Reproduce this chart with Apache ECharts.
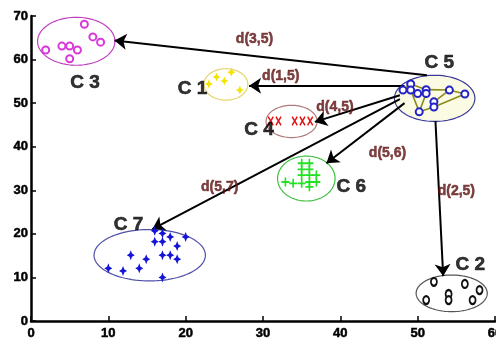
<!DOCTYPE html>
<html><head><meta charset="utf-8">
<script src="https://cdn.jsdelivr.net/npm/echarts@6/dist/echarts.min.js"></script>
<style>html,body{margin:0;padding:0;background:#fff}#c{width:496px;height:346px}</style>
</head><body><div id="c"></div>
<script>
// ---- data ----
var xTicks = [0, 10, 20, 30, 40, 50, 60];
var yTicks = [0, 10, 20, 30, 40, 50, 60, 70];
var clusterNames = ['C 1', 'C 2', 'C 3', 'C 4', 'C 5', 'C 6', 'C 7'];
var c1 = [[23.0,54.4],[24.0,56.0],[25.0,55.1],[25.9,57.1],[27.0,53.0]];
var c2 = [[52.1,9.0],[51.1,4.8],[54.0,6.2],[54.0,4.8],[56.1,8.5],[58.0,7.1],[57.1,4.8]];
var c3 = [[1.9,62.2],[4.0,63.1],[5.0,63.1],[6.0,62.2],[5.0,60.2],[6.9,68.1],[8.0,65.2],[9.0,64.0]];
var c4 = [[31.0,45.9],[32.0,45.9],[34.1,45.9],[35.1,45.9],[36.1,45.9]];
var c5 = [[48.1,53.0],[49.1,54.4],[49.1,53.0],[50.0,52.2],[51.1,53.1],[51.1,52.2],[52.1,50.3],[52.1,49.1],[50.2,48.0],[54.1,53.0],[56.1,52.1]];
var c6 = [[35.0,36.2],[36.0,36.2],[35.0,34.8],[36.0,34.8],[35.0,33.5],[36.0,33.5],[36.9,33.5],[36.0,31.9],[36.9,31.9],[32.9,31.9],[33.9,31.6],[35.0,31.6],[36.0,30.8]];
var c7 = [[10.0,12.1],[11.9,11.5],[14.0,12.1],[12.9,15.1],[14.9,14.2],[16.0,20.7],[17.0,20.1],[16.0,18.2],[17.0,18.2],[18.0,19.3],[18.9,17.2],[20.0,19.3],[17.0,15.1],[18.0,15.1],[18.9,14.2],[17.0,10.0]];
var c5Edges = [[1,4],[4,9],[9,10],[10,7],[7,8],[8,2],[2,1],[5,8],[6,9],[3,5],[0,1]];
// ellipse centres and radii in data units, order C1..C7
var ellipseCx = [25.2, 54.4, 5.85, 33.7, 52.2, 35.6, 15.35];
var ellipseCy = [54.3, 6.35, 64.2, 45.8, 51.1, 32.7, 15.1];
var ellipseRx = [2.84, 4.6, 5.0, 3.3, 5.2, 3.72, 7.2];
var ellipseRy = [3.6, 4.2, 5.5, 3.7, 5.3, 5.16, 5.9];
var clusterLabelX = [20.9, 56.8, 7.0, 29.5, 52.8, 41.4, 12.6];
var clusterLabelY = [53.2, 12.8, 54.6, 43.8, 59.2, 30.8, 22.2];
var distNames = ['d(3,5)', 'd(1,5)', 'd(4,5)', 'd(5,6)', 'd(5,7)', 'd(2,5)'];
var arrowFrom = [[51.2,56.4],[48.3,54.0],[47.7,51.8],[48.3,50.0],[47.7,50.9],[52.3,45.9]];
var arrowTo = [[10.8,64.4],[28.2,54.0],[36.7,45.7],[38.2,36.2],[15.7,21.1],[53.3,10.3]];
var distLabelX = [28.9, 32.3, 39.3, 46.1, 24.4, 55.0];
var distLabelY = [64.6, 56.1, 49.0, 38.6, 30.8, 29.7];

// ---- styles ----
var tickFont = {fontFamily: '"Liberation Sans", Arial, sans-serif', fontWeight: 'bold', fontSize: 13, color: '#000',
  textBorderColor: '#000', textBorderWidth: 0.5};
var ellipseStroke = ['#e6d36a', '#555555', '#c040c0', '#b07a7a', '#3a3a9a', '#40c040', '#5050a8'];
var ellipseFill = [null, null, null, null, '#fbfbe4', null, null];

var chart = echarts.init(document.getElementById('c'), null, {renderer: 'canvas'});

var ellipseData = ellipseCx.map(function (cx, i) { return [cx, ellipseCy[i], ellipseRx[i], ellipseRy[i], i]; });

function renderEllipse(params, api) {
  var c = api.coord([api.value(0), api.value(1)]);
  var s = api.size([api.value(2), api.value(3)]);
  var idx = api.value(4);
  var pts = [];
  for (var k = 0; k < 96; k++) {
    var t = k / 96 * Math.PI * 2;
    pts.push([c[0] + s[0] * Math.cos(t), c[1] + s[1] * Math.sin(t)]);
  }
  return {type: 'polygon', shape: {points: pts},
    style: {fill: ellipseFill[idx] || 'none', stroke: ellipseStroke[idx], lineWidth: 1.2}};
}

var edgeData = c5Edges.map(function (e) { return {coords: [c5[e[0]], c5[e[1]]]}; });
var arrowData = arrowFrom.map(function (f, i) { return {coords: [f, arrowTo[i]]}; });

var star4 = 'path://M5,0 L6.6,3.4 L10,5 L6.6,6.6 L5,10 L3.4,6.6 L0,5 L3.4,3.4 Z';
var plus = 'path://M4,0H6V4H10V6H6V10H4V6H0V4H4Z';
var xMark = 'path://M0,1.5 L1.5,0 L5,3.5 L8.5,0 L10,1.5 L6.5,5 L10,8.5 L8.5,10 L5,6.5 L1.5,10 L0,8.5 L3.5,5 Z';

function scatter(data, symbol, size, color, filled) {
  return {type: 'scatter', data: data, symbol: symbol, symbolSize: size, z: 5,
    itemStyle: filled ? {color: color, opacity: 1} : {color: color, borderColor: color, borderWidth: 1.6, opacity: 1}};
}

var clusterLabelData = clusterNames.map(function (n, i) { return {name: n, value: [clusterLabelX[i], clusterLabelY[i]]}; });
var distLabelData = distNames.map(function (n, i) { return {name: n, value: [distLabelX[i], distLabelY[i]]}; });

chart.setOption({
  animation: false,
  grid: {left: 31, right: 1, top: 16, bottom: 25, outerBoundsMode: 'none', containLabel: false},
  xAxis: {type: 'value', min: xTicks[0], max: xTicks[xTicks.length - 1], interval: 10,
    splitLine: {show: false},
    axisLine: {show: true, onZero: false, lineStyle: {color: '#000', width: 2.5}},
    axisTick: {show: true, inside: true, length: 5, lineStyle: {color: '#000', width: 1.5}},
    axisLabel: Object.assign({margin: 6, showMaxLabel: true, alignMaxLabel: 'center', hideOverlap: false}, tickFont)},
  yAxis: {type: 'value', min: yTicks[0], max: yTicks[yTicks.length - 1], interval: 10,
    splitLine: {show: false},
    axisLine: {show: true, onZero: false, lineStyle: {color: '#000', width: 2.5}},
    axisTick: {show: true, inside: true, length: 5, lineStyle: {color: '#000', width: 1.5}},
    axisLabel: Object.assign({margin: 3}, tickFont)},
  series: [
    {type: 'custom', renderItem: renderEllipse, data: ellipseData, z: 1, clip: false},
    {type: 'lines', coordinateSystem: 'cartesian2d', data: edgeData, z: 3,
      lineStyle: {color: '#8d8a1c', width: 1.6, opacity: 1}, symbol: 'none'},
    scatter(c1, star4, [8, 9], '#f5e400', true),
    scatter(c2, 'emptyCircle', [6, 8], '#111', false),
    scatter(c3, 'emptyCircle', 7, '#d83ad8', false),
    scatter(c4, xMark, [6, 10], '#e01818', true),
    scatter(c5, 'emptyCircle', 7, '#2323c8', false),
    scatter(c6, plus, [8, 9], '#22e022', true),
    scatter(c7, star4, [8, 10], '#1414d8', true),
    {type: 'lines', coordinateSystem: 'cartesian2d', data: arrowData, z: 4,
      symbol: ['none', 'arrow'], symbolSize: 12,
      lineStyle: {color: '#000', width: 2, opacity: 1}},
    {type: 'scatter', data: clusterLabelData, symbolSize: 0, z: 6,
      label: {show: true, position: 'inside', formatter: '{b}', color: '#000',
        textBorderColor: '#000', textBorderWidth: 0.6,
        fontFamily: '"Liberation Sans", Arial, sans-serif', fontWeight: 'bold', fontSize: 19}},
    {type: 'scatter', data: distLabelData, symbolSize: 0, z: 6,
      label: {show: true, position: 'inside', formatter: '{b}', color: '#5e1212',
        textBorderColor: '#5e1212', textBorderWidth: 0.5,
        fontFamily: '"Liberation Sans", Arial, sans-serif', fontWeight: 'bold', fontSize: 14}}
  ]
});
</script></body></html>
